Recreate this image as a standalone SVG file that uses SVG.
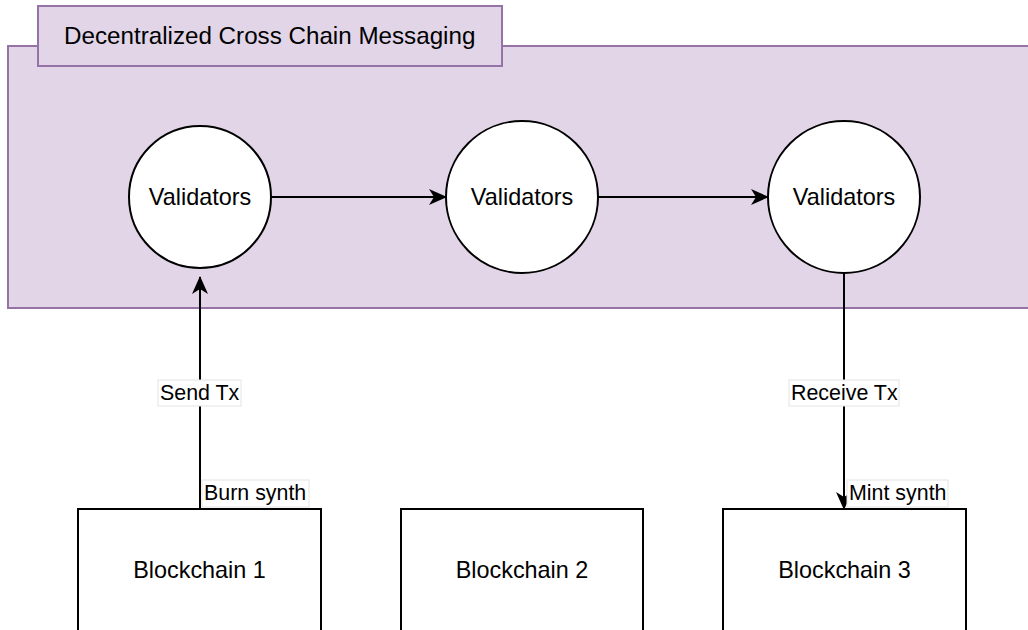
<svg xmlns="http://www.w3.org/2000/svg" width="1028" height="630" viewBox="0 0 1028 630">
  <style>
    text { font-family: "Liberation Sans", Arial, Helvetica, sans-serif; fill: #000; }
    .group-box { fill: #e1d5e7; stroke: #9673a6; stroke-width: 2; }
    .validator { fill: #fff; stroke: #000; stroke-width: 2; }
    .chain { fill: #fff; stroke: #000; stroke-width: 2; }
    .node-label { font-size: 23.4px; text-anchor: middle; }
    .edge { fill: none; stroke: #000; stroke-width: 2; }
    .edge-label-bg { fill: #fff; stroke: #e4e4e4; stroke-width: 1; }
    .edge-label { font-size: 21.4px; }
  </style>
  <defs>
    <marker id="arrow" viewBox="0 0 18 16" refX="17" refY="8" markerWidth="18" markerHeight="16" markerUnits="userSpaceOnUse" orient="auto">
      <path d="M0,0 L18,8 L0,16 L5,8 Z" fill="#000"/>
    </marker>
  </defs>

  <rect width="1028" height="630" fill="#fff"/>

  <!-- Messaging layer container with its title tab -->
  <g id="messaging-layer">
    <rect class="group-box" x="8" y="46" width="1040" height="262"/>
    <rect class="group-box" x="38" y="6" width="464" height="60"/>
    <text x="64" y="44" font-size="24.2">Decentralized Cross Chain Messaging</text>
  </g>

  <!-- Connectors -->
  <g id="connectors">
    <path class="edge" d="M271,197 L446,197" marker-end="url(#arrow)"/>
    <path class="edge" d="M598,197 L768,197" marker-end="url(#arrow)"/>
    <path class="edge" d="M200,509 L200,277" marker-end="url(#arrow)"/>
    <path class="edge" d="M844,273 L844,509" marker-end="url(#arrow)"/>

    <rect class="edge-label-bg" x="158" y="380" width="83" height="26"/>
    <text class="edge-label" x="160" y="400">Send Tx</text>
    <rect class="edge-label-bg" x="202" y="480" width="107" height="27"/>
    <text class="edge-label" x="204" y="500">Burn synth</text>
    <rect class="edge-label-bg" x="789" y="380" width="110" height="26"/>
    <text class="edge-label" x="791" y="400">Receive Tx</text>
    <rect class="edge-label-bg" x="847" y="480" width="101" height="27"/>
    <text class="edge-label" x="849" y="500">Mint synth</text>
  </g>

  <!-- Validator sets -->
  <g id="validators-1">
    <circle class="validator" cx="200" cy="197" r="71"/>
    <text class="node-label" x="200" y="205">Validators</text>
  </g>
  <g id="validators-2">
    <circle class="validator" cx="522" cy="197" r="76"/>
    <text class="node-label" x="522" y="205">Validators</text>
  </g>
  <g id="validators-3">
    <circle class="validator" cx="844" cy="197" r="76"/>
    <text class="node-label" x="844" y="205">Validators</text>
  </g>

  <!-- Blockchains -->
  <g id="blockchain-1">
    <rect class="chain" x="78" y="509" width="243" height="140"/>
    <text class="node-label" x="199.5" y="578">Blockchain 1</text>
  </g>
  <g id="blockchain-2">
    <rect class="chain" x="401" y="509" width="242" height="140"/>
    <text class="node-label" x="522" y="578">Blockchain 2</text>
  </g>
  <g id="blockchain-3">
    <rect class="chain" x="723" y="509" width="243" height="140"/>
    <text class="node-label" x="844.5" y="578">Blockchain 3</text>
  </g>
</svg>
